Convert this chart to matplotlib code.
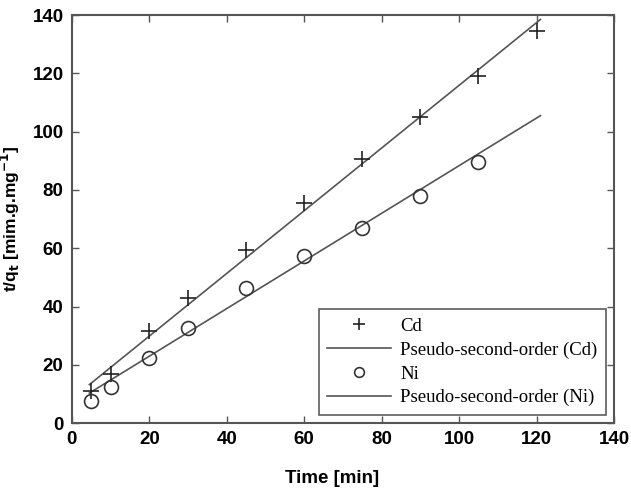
import numpy as np
import matplotlib.pyplot as plt
from matplotlib.lines import Line2D

# measured points (t/qt vs time)
time_cd = [5, 10, 20, 30, 45, 60, 75, 90, 105, 120]
tq_cd = [11, 17, 31.5, 43, 59.5, 75.5, 90.5, 105, 119, 134.5]
time_ni = [5, 10, 20, 30, 45, 60, 75, 90, 105]
tq_ni = [7.5, 12.5, 22.5, 32.5, 46.5, 57.5, 67, 78, 89.5]

# pseudo-second-order fit lines (end points)
fit_t = [4.5, 121]
fit_cd = [13.2, 138.5]
fit_ni = [10.3, 105.5]

gray = "#555555"
plt.rcParams["font.family"] = ["Liberation Sans", "DejaVu Sans"]

fig = plt.figure(figsize=(6.31, 4.88), dpi=100)
ax = fig.add_axes([0.114, 0.133, 0.859, 0.836])

ax.plot(fit_t, fit_cd, color=gray, lw=1.2)
ax.plot(fit_t, fit_ni, color=gray, lw=1.2)
ax.plot(time_cd, tq_cd, ls="none", marker="+", ms=11, mew=1.2, color="#222222")
ax.plot(time_ni, tq_ni, ls="none", marker="o", ms=10, mew=1.2,
        mfc="none", mec="#333333")

ax.set_xlim(0, 140)
ax.set_ylim(0, 140)
ax.set_xticks(np.arange(0, 141, 20))
ax.set_yticks(np.arange(0, 141, 20))
ax.tick_params(direction="in", top=True, right=True, length=5, width=1,
               color=gray, labelsize=13.5, pad=6)
for lab in ax.get_xticklabels() + ax.get_yticklabels():
    lab.set_fontweight("bold")
for s in ax.spines.values():
    s.set_color(gray)
    s.set_linewidth(1.5)

ax.set_xlabel("Time [min]", fontsize=13.5, fontweight="bold")
ax.xaxis.set_label_coords(0.48, -0.115)
ax.set_ylabel(r"t/q$_\mathbf{t}$ [mim.g.mg$^\mathbf{-1}$]", fontsize=12.5,
              fontweight="bold")
ax.yaxis.set_label_coords(-0.092, 0.5)

handles = [
    Line2D([], [], ls="none", marker="+", ms=9, mew=1.2, color="#222222"),
    Line2D([], [], color=gray, lw=1.2),
    Line2D([], [], ls="none", marker="o", ms=7, mew=1.2, mfc="none", mec="#333333"),
    Line2D([], [], color=gray, lw=1.2),
]
labels = ["Cd", "Pseudo-second-order (Cd)", "Ni", "Pseudo-second-order (Ni)"]
leg = ax.legend(handles, labels, loc="lower right", bbox_to_anchor=(0.985, 0.02),
                borderaxespad=0, frameon=True, fancybox=False, edgecolor="#333333",
                prop={"family": "Liberation Serif", "size": 13.5},
                handlelength=3.4, handletextpad=0.5, labelspacing=0.35,
                borderpad=0.45)
leg.get_frame().set_linewidth(1.2)

plt.savefig("out.png", dpi=100)
